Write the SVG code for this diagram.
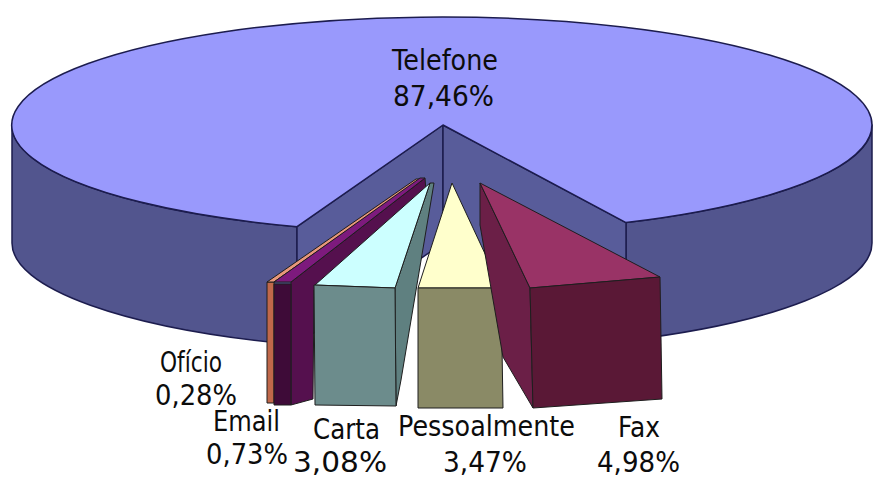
<svg xmlns="http://www.w3.org/2000/svg" width="873" height="478" viewBox="0 0 873 478">
<style>
.pie{stroke:#1c1c4e;stroke-width:1.5;stroke-linejoin:round}
.sl{stroke:#1e1e1e;stroke-width:1;stroke-linejoin:round}
.lbl{font-family:"DejaVu Sans","Liberation Sans",sans-serif;font-size:28px;fill:#0c0c0c}
</style>
<rect width="873" height="478" fill="#ffffff"/>
<g id="telefone">
<path class="pie" fill="#52558e" d="M12,125 L12,243 A430,108 0 0 0 297,344.7 L297,226.7 A430,108 0 0 1 12,125 Z"/>
<path class="pie" fill="#52558e" d="M872,125 L872,243 A430,108 0 0 1 626,340.6 L626,222.6 A430,108 0 0 0 872,125 Z"/>
<path class="pie" fill="#585c9a" d="M443,125 L297,226.7 L297,344.7 L443,243 Z"/>
<path class="pie" fill="#585c9a" d="M443,125 L626,222.6 L626,340.6 L443,243 Z"/>
<path class="pie" fill="#9999fc" d="M443,125 L297,226.7 A430,108 0 1 1 626,222.6 Z"/>
<text class="lbl" x="392" y="70" textLength="106" lengthAdjust="spacingAndGlyphs">Telefone</text>
<text class="lbl" x="393" y="106" textLength="101" lengthAdjust="spacingAndGlyphs">87,46%</text>
</g>
<g id="oficio">
<path class="sl" fill="#c0684a" d="M267,282 L274,282 L274,403 L267,403 Z"/>
<path class="sl" fill="#e8987a" d="M267,282 L274,282 L420,179 L416,179 Z"/>
<text class="lbl" x="160" y="372" textLength="62" lengthAdjust="spacingAndGlyphs">Ofício</text>
<text class="lbl" x="155" y="405" textLength="82" lengthAdjust="spacingAndGlyphs">0,28%</text>
</g>
<g id="email">
<path class="sl" fill="#55104e" d="M291,282 L425,178 L426,192 L314,290 L313,399 L291,405 Z"/>
<path class="sl" fill="#7d1a7d" d="M274,282 L291,282 L425,178 L420,178 Z"/>
<path class="sl" fill="#3e0b38" d="M274,284 L291,284 L291,405 L274,405 Z"/>
<text class="lbl" x="213" y="431" textLength="67" lengthAdjust="spacingAndGlyphs">Email</text>
<text class="lbl" x="206" y="464" textLength="82" lengthAdjust="spacingAndGlyphs">0,73%</text>
</g>
<g id="carta">
<path class="sl" fill="#5f8080" d="M395,288 L430,183 L434,183 L401,380 L396,406 Z"/>
<path class="sl" fill="#ccffff" d="M430,183 L315,285 L395,288 Z"/>
<path class="sl" fill="#6c8c8c" d="M314,285 L395,288 L396,406 L315,405 Z"/>
<text class="lbl" x="313" y="439" textLength="67" lengthAdjust="spacingAndGlyphs">Carta</text>
<text class="lbl" x="293" y="472" textLength="94" lengthAdjust="spacingAndGlyphs">3,08%</text>
</g>
<g id="pessoalmente">
<path class="sl" fill="#ffffcc" d="M452,183 L418,288 L501,288 Z"/>
<path class="sl" fill="#8a8a66" d="M418,288 L501,288 L503,408 L418,408 Z"/>
<text class="lbl" x="398" y="436" textLength="177" lengthAdjust="spacingAndGlyphs">Pessoalmente</text>
<text class="lbl" x="443" y="472" textLength="84" lengthAdjust="spacingAndGlyphs">3,47%</text>
</g>
<g id="fax">
<path class="sl" fill="#6b1f47" d="M480,183 L530,288 L533,408 L503,357 L480,225 Z"/>
<path class="sl" fill="#993366" d="M480,183 L660,277 L530,288 Z"/>
<path class="sl" fill="#5a1836" d="M530,288 L660,277 L662,399 L533,408 Z"/>
<text class="lbl" x="618" y="437" textLength="42" lengthAdjust="spacingAndGlyphs">Fax</text>
<text class="lbl" x="597" y="472" textLength="83" lengthAdjust="spacingAndGlyphs">4,98%</text>
</g>
<g id="connectors"/>
</svg>
